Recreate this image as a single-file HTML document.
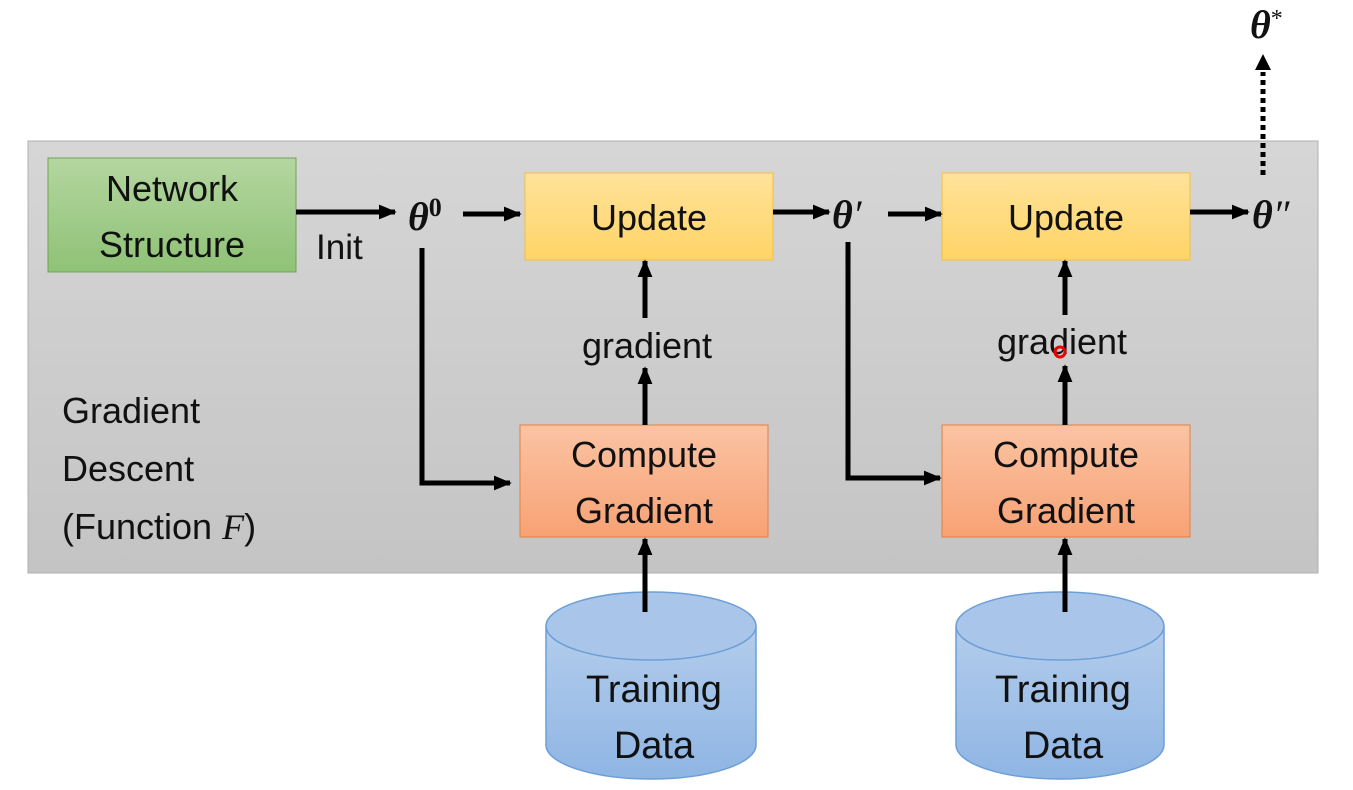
<!DOCTYPE html>
<html><head><meta charset="utf-8"><style>
html,body{margin:0;padding:0;background:#fff;}
svg{display:block;}
text{font-family:"Liberation Sans",sans-serif;fill:#111;}
</style></head><body>
<svg width="1353" height="790" viewBox="0 0 1353 790" xmlns="http://www.w3.org/2000/svg">
<defs>
<linearGradient id="gg" x1="0" y1="0" x2="0" y2="1"><stop offset="0" stop-color="#d6d6d6"/><stop offset="1" stop-color="#c4c4c4"/></linearGradient>
<linearGradient id="gr" x1="0" y1="0" x2="0" y2="1"><stop offset="0" stop-color="#b4d6a0"/><stop offset="1" stop-color="#8fc276"/></linearGradient>
<linearGradient id="ye" x1="0" y1="0" x2="0" y2="1"><stop offset="0" stop-color="#ffe39a"/><stop offset="1" stop-color="#ffd466"/></linearGradient>
<linearGradient id="or" x1="0" y1="0" x2="0" y2="1"><stop offset="0" stop-color="#fbc3a3"/><stop offset="1" stop-color="#f7a274"/></linearGradient>
<linearGradient id="bl" x1="0" y1="0" x2="0" y2="1"><stop offset="0" stop-color="#b3cdec"/><stop offset="1" stop-color="#8fb5e3"/></linearGradient>
<marker id="ah" markerWidth="3.6" markerHeight="3" refX="9" refY="5" orient="auto" markerUnits="strokeWidth" viewBox="0 0 10 10" preserveAspectRatio="none"><path d="M0,0 L10,5 L0,10 z" fill="#000"/></marker>
</defs>
<rect x="28" y="141" width="1290" height="432" fill="url(#gg)" stroke="#b0b0b0"/>
<rect x="48" y="158" width="248" height="114" fill="url(#gr)" stroke="#6fa356"/>
<text x="172" y="201" font-size="36" text-anchor="middle">Network</text>
<text x="172" y="257" font-size="36" text-anchor="middle">Structure</text>
<rect x="525" y="173" width="248" height="87" fill="url(#ye)" stroke="#f0c040"/>
<text x="649" y="230" font-size="36" text-anchor="middle">Update</text>
<rect x="942" y="173" width="248" height="87" fill="url(#ye)" stroke="#f0c040"/>
<text x="1066" y="230" font-size="36" text-anchor="middle">Update</text>
<rect x="520" y="425" width="248" height="112" fill="url(#or)" stroke="#e08040"/>
<text x="644" y="467" font-size="36" text-anchor="middle">Compute</text>
<text x="644" y="523" font-size="36" text-anchor="middle">Gradient</text>
<rect x="942" y="425" width="248" height="112" fill="url(#or)" stroke="#e08040"/>
<text x="1066" y="467" font-size="36" text-anchor="middle">Compute</text>
<text x="1066" y="523" font-size="36" text-anchor="middle">Gradient</text>
<text x="62" y="423" font-size="36">Gradient</text>
<text x="62" y="481" font-size="36">Descent</text>
<text x="62" y="539" font-size="36">(Function <tspan font-family="Liberation Serif" font-style="italic">F</tspan>)</text>
<text x="316" y="259" font-size="35">Init</text>
<g stroke="#000" stroke-width="5" fill="none">
<line x1="296" y1="212" x2="395" y2="212" marker-end="url(#ah)"/>
<line x1="463" y1="214" x2="520" y2="214" marker-end="url(#ah)"/>
<line x1="773" y1="212" x2="829" y2="212" marker-end="url(#ah)"/>
<line x1="888" y1="214" x2="941" y2="214" marker-end="url(#ah)"/>
<line x1="1190" y1="212" x2="1248" y2="212" marker-end="url(#ah)"/>
<polyline points="422,248 422,483 510,483" marker-end="url(#ah)"/>
<polyline points="848,242 848,478 940,478" marker-end="url(#ah)"/>
<line x1="645" y1="425" x2="645" y2="368" marker-end="url(#ah)"/>
<line x1="645" y1="318" x2="645" y2="261" marker-end="url(#ah)"/>
<line x1="1065" y1="425" x2="1065" y2="366" marker-end="url(#ah)"/>
<line x1="1065" y1="315" x2="1065" y2="261" marker-end="url(#ah)"/>
<line x1="1263" y1="175" x2="1263" y2="72" stroke-dasharray="5,4"/>
</g>
<path d="M1255,70 L1271,70 L1263,54 z" fill="#000"/>
<text x="647" y="358" font-size="36" text-anchor="middle">gradient</text>
<text x="1062" y="354" font-size="36" text-anchor="middle">gradient</text>
<circle cx="1060" cy="352" r="5" fill="none" stroke="#e00" stroke-width="3"/>
<g font-family="Liberation Serif" font-weight="bold" font-style="italic">
<text x="408" y="230" font-size="40" style="font-family:'Liberation Serif'">θ<tspan font-size="26" dy="-14" font-style="normal">0</tspan></text>
<text x="832" y="228" font-size="40" style="font-family:'Liberation Serif'">θ<tspan font-weight="normal">′</tspan></text>
<text x="1252" y="228" font-size="40" style="font-family:'Liberation Serif'">θ<tspan font-weight="normal">″</tspan></text>
<text x="1250" y="38" font-size="40" style="font-family:'Liberation Serif'">θ<tspan font-size="24" dy="-12" font-weight="normal" font-style="normal">*</tspan></text>
</g>
<g stroke="#6d9fd6" stroke-width="1.5">
<path d="M546,626 L546,745 A105,34 0 0 0 756,745 L756,626" fill="url(#bl)"/>
<ellipse cx="651" cy="626" rx="105" ry="34" fill="#a9c6ea"/>
<path d="M956,626 L956,745 A104,34 0 0 0 1164,745 L1164,626" fill="url(#bl)"/>
<ellipse cx="1060" cy="626" rx="104" ry="34" fill="#a9c6ea"/>
</g>
<g stroke="#000" stroke-width="5" fill="none">
<line x1="645" y1="612" x2="645" y2="539" marker-end="url(#ah)"/>
<line x1="1065" y1="612" x2="1065" y2="539" marker-end="url(#ah)"/>
</g>
<text x="654" y="702" font-size="38" text-anchor="middle">Training</text>
<text x="654" y="758" font-size="38" text-anchor="middle">Data</text>
<text x="1063" y="702" font-size="38" text-anchor="middle">Training</text>
<text x="1063" y="758" font-size="38" text-anchor="middle">Data</text>
</svg>
</body></html>
